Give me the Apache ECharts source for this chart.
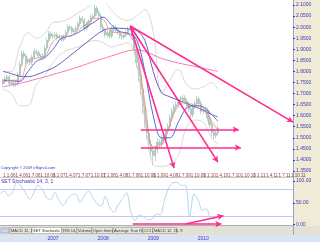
<!DOCTYPE html>
<html><head><meta charset="utf-8">
<script src="https://cdn.jsdelivr.net/npm/echarts@6/dist/echarts.min.js"></script>
<style>html,body{margin:0;padding:0;background:#fff}#c{width:320px;height:242px}</style>
</head><body><div id="c"></div><script>
// ---- data ----
const dateTicks = ['1.1.06','1.4.06','1.7.06','1.10.06','1.1.07','1.4.07','1.7.07','1.10.07','1.1.08','1.4.08','1.7.08','1.10.08','1.1.09','1.4.09','1.7.09','1.10.09','1.1.10','1.4.10','1.7.10','1.10.10','1.1.11','1.4.11','1.7.11','1.10.11'];
const years = ['2007','2008','2009','2010'];
const priceTicks = {min:1.35, max:2.10, step:0.05};
const opens = [1.745,1.755,1.765,1.775,1.745,1.750,1.740,1.745,1.785,1.830,1.880,1.870,1.845,1.850,1.840,1.865,1.890,1.885,1.870,1.865,1.870,1.905,1.940,1.970,
1.960,1.960,1.965,1.955,1.950,1.945,1.955,1.975,2.000,1.995,1.980,1.985,1.995,2.015,2.040,2.030,1.995,2.010,2.025,2.045,2.050,2.085,2.065,2.050,
2.000,1.985,1.965,1.975,1.960,1.990,2.000,1.985,1.975,1.960,1.955,1.965,1.975,1.990,1.995,1.960,1.900,1.840,1.780,1.720,1.640,1.570,1.520,1.470,
1.440,1.420,1.445,1.480,1.470,1.500,1.490,1.530,1.550,1.590,1.620,1.640,1.650,1.660,1.675,1.680,1.665,1.645,1.630,1.605,1.640,1.655,1.675,1.655,
1.620,1.620,1.625,1.590,1.560,1.525,1.510,1.522];
const closes = [1.755,1.765,1.775,1.745,1.750,1.740,1.745,1.785,1.830,1.880,1.870,1.845,1.850,1.840,1.865,1.890,1.885,1.870,1.865,1.870,1.905,1.940,1.970,1.960,
1.960,1.965,1.955,1.950,1.945,1.955,1.975,2.000,1.995,1.980,1.985,1.995,2.015,2.040,2.030,1.995,2.010,2.025,2.045,2.050,2.085,2.065,2.050,2.000,
1.985,1.965,1.975,1.960,1.990,2.000,1.985,1.975,1.960,1.955,1.965,1.975,1.990,1.995,1.960,1.900,1.840,1.780,1.720,1.640,1.570,1.520,1.470,1.440,
1.420,1.445,1.480,1.470,1.500,1.490,1.530,1.550,1.590,1.620,1.640,1.650,1.660,1.675,1.680,1.665,1.645,1.630,1.605,1.640,1.655,1.675,1.655,1.620,
1.620,1.625,1.590,1.560,1.525,1.510,1.522,1.544];
const highs = [1.768,1.778,1.786,1.784,1.762,1.760,1.758,1.797,1.845,1.895,1.892,1.880,1.862,1.860,1.876,1.902,1.900,1.895,1.880,1.882,1.918,1.952,1.983,1.980,
1.972,1.976,1.975,1.966,1.960,1.966,1.987,2.012,2.010,2.005,1.996,2.006,2.027,2.052,2.050,2.040,2.022,2.036,2.057,2.062,2.100,2.095,2.075,2.060,
2.012,1.995,1.986,1.984,2.002,2.012,2.010,1.995,1.985,1.970,1.976,1.986,2.002,2.008,2.005,1.975,1.915,1.860,1.800,1.740,1.665,1.590,1.540,1.490,
1.460,1.465,1.498,1.496,1.516,1.514,1.546,1.565,1.606,1.635,1.655,1.664,1.674,1.688,1.694,1.692,1.677,1.657,1.642,1.655,1.668,1.690,1.686,1.667,
1.634,1.638,1.636,1.602,1.572,1.538,1.534,1.556];
const lows = [1.733,1.744,1.754,1.733,1.735,1.728,1.729,1.735,1.775,1.820,1.858,1.834,1.835,1.829,1.830,1.855,1.874,1.860,1.854,1.855,1.860,1.895,1.930,1.948,
1.948,1.950,1.944,1.939,1.934,1.935,1.945,1.965,1.984,1.969,1.970,1.975,1.985,2.004,2.019,1.980,1.984,2.000,2.014,2.034,2.040,2.053,2.038,1.986,
1.972,1.953,1.955,1.948,1.950,1.978,1.974,1.964,1.948,1.944,1.945,1.955,1.965,1.980,1.945,1.880,1.815,1.755,1.695,1.610,1.545,1.495,1.445,1.410,
1.375,1.395,1.428,1.452,1.455,1.474,1.476,1.516,1.536,1.575,1.606,1.627,1.637,1.648,1.663,1.652,1.632,1.617,1.590,1.592,1.628,1.642,1.642,1.606,
1.606,1.608,1.576,1.546,1.508,1.494,1.497,1.510];
const maIdx = [0,4,8,12,16,20,24,28,32,36,40,44,48,52,56,60,64,68,72,76,80,84,88,92,96,100,103];
const maFast = [1.752,1.760,1.760,1.850,1.860,1.868,1.935,1.960,1.958,1.985,2.015,2.040,2.035,1.978,1.975,1.968,1.900,1.660,1.460,1.470,1.560,1.645,1.660,1.645,1.635,1.575,1.535];
const maMid = [1.760,1.758,1.755,1.800,1.845,1.862,1.900,1.950,1.960,1.975,2.000,2.025,2.045,2.010,1.980,1.972,1.945,1.800,1.600,1.500,1.500,1.570,1.635,1.645,1.640,1.605,1.575];
const maSlow = [1.800,1.790,1.778,1.776,1.785,1.800,1.815,1.840,1.870,1.900,1.930,1.960,1.985,1.995,1.995,1.992,1.985,1.940,1.800,1.705,1.685,1.670,1.655,1.640,1.625,1.605,1.594];
const maLong = [1.730,1.738,1.746,1.755,1.765,1.775,1.786,1.797,1.808,1.820,1.833,1.846,1.858,1.870,1.882,1.893,1.898,1.890,1.875,1.858,1.848,1.838,1.830,1.822,1.814,1.806,1.800];
const bandUpper = [1.800,1.800,1.910,1.975,1.950,1.970,2.020,2.025,2.040,2.065,2.085,2.115,2.115,2.075,2.040,2.030,2.050,2.080,1.980,1.700,1.760,1.810,1.740,1.720,1.730,1.750,1.720];
const bandLower = [1.720,1.700,1.645,1.645,1.740,1.780,1.840,1.880,1.900,1.910,1.930,1.940,1.930,1.910,1.920,1.930,1.840,1.580,1.380,1.370,1.380,1.420,1.550,1.580,1.570,1.500,1.470];
const stochIdx = [0,2,4,6,8,10,12,14,16,18,20,22,24,26,28,30,32,34,36,38,40,42,44,46,48,50,52,54,56,58,60,62,64,66,68,70,72,74,76,78,80,82,84,86,88,90,92,94,96,98,100,102,103];
const stochVal = [70,77,66,75,98,88,74,58,72,90,82,62,57,74,55,44,58,68,70,50,66,77,62,48,42,65,40,28,45,58,73,30,9,22,18,11,12,24,22,55,84,96,97,90,90,18,70,56,33,36,14,15,22];
const stochLevels = [80, 20];
// arrows: [x1 index, y1 value, x2 index, y2 value]
const fanArrows = [[60.7,2.005,138.5,1.571],[60.7,2.005,103.4,1.390],[60.7,2.005,81.6,1.363]];
const flatArrows = [[66.4,1.5375,112.9,1.5375],[66.4,1.4560,113.9,1.4560]];
const stochArrows = [[62.6,1,105.3,1],[87.8,1,105.8,20]];
const tabs = ['MACD 12, 26, 9','SET Stochastic 14, 3, 1','RSI 14, 1, 1','Volume 20','Open Interest 20','Average True Range 14','CCI 20','MACD 12, 26, 9'];
const tabX = [10,32,62,77,92,113,143,153,177];

// ---- build ----
const N = 140;
const cats = Array.from({length:N},(_,i)=>String(i));
const F = 'Liberation Sans, Arial, sans-serif';
const PINK = '#ff2b8e';
const ohlc = opens.map((o,i)=>[o, closes[i], lows[i], highs[i]]);
const pair = arr => maIdx.map((x,i)=>[x, arr[i]]);
const lastClose = closes[closes.length-1];
const lastStoch = stochVal[stochVal.length-1];
const arrowData = a => a.map(v=>[{coord:[v[0],v[1]]},{coord:[v[2],v[3]]}]);

const chart = echarts.init(document.getElementById('c'));
const lineS = (data,color,w) => ({type:'line', xAxisIndex:0, yAxisIndex:0, data, smooth:0.35, showSymbol:false, symbol:'none', lineStyle:{color, width:w}, silent:true, z:3});
const arrowS = (xi, anchor, arr) => ({type:'line', xAxisIndex:xi, yAxisIndex:xi, data:[anchor], showSymbol:false, symbol:'none', lineStyle:{opacity:0}, silent:true, z:6,
  markLine:{silent:true, symbol:['none','arrow'], symbolSize:[5,6], label:{show:false}, animation:false,
    itemStyle:{color:PINK}, lineStyle:{color:PINK, width:1.6, type:'solid', opacity:1}, data:arrowData(arr)}});

const graphic = [
  {type:'rect', shape:{x:293,y:0,width:27,height:235}, style:{fill:'#efebd7'}, z:-5},
  {type:'rect', shape:{x:0,y:226,width:320,height:9}, style:{fill:'#e3e1d6'}, z:-5},
  {type:'rect', shape:{x:0,y:235,width:320,height:7}, style:{fill:'#d9e5f5'}, z:-5},
  {type:'line', shape:{x1:293.5,y1:0,x2:293.5,y2:235}, style:{stroke:'#9d9dcf',lineWidth:1}, z:-4},
  {type:'line', shape:{x1:0,y1:177.5,x2:293,y2:177.5}, style:{stroke:'#c8c8c8',lineWidth:1}, z:-4},
  {type:'line', shape:{x1:0,y1:225.5,x2:293,y2:225.5}, style:{stroke:'#b0b0b0',lineWidth:1}, z:-4},
  {type:'text', x:1, y:166, style:{text:'Copyright © 2009 eSignal.com', font:'4px '+F, fill:'#3a3ab8'}},
  {type:'text', x:1, y:179, style:{text:'SET Stochastic 14, 3, 1', font:'5px '+F, fill:'#3a3ab8'}},
  {type:'rect', shape:{x:1,y:228,width:8,height:5}, style:{fill:'#c8d4f0', stroke:'#8080c0', lineWidth:0.5}},
];
tabs.forEach((t,i)=>{
  graphic.push({type:'rect', shape:{x:tabX[i],y:227.5,width:tabX[i+1]-tabX[i]-0.5,height:6}, style:{fill: i===1?'#ffffff':'#e8e6dc', stroke:'#8a8a8a', lineWidth:0.5}});
  graphic.push({type:'text', x:tabX[i]+1, y:228.5, style:{text:t, font:'4px '+F, fill:'#333'}});
});

chart.setOption({
  animation:false,
  textStyle:{fontFamily:F},
  grid:[
    {left:0, top:5, width:293, height:166},
    {left:0, top:181, width:293, height:43.5},
    {left:0, top:235, width:293, height:7}
  ],
  xAxis:[
    {type:'category', gridIndex:0, data:cats, boundaryGap:false, axisLine:{show:false}, axisTick:{show:false}, splitLine:{show:false},
     axisLabel:{interval:5, fontSize:4.5, color:'#8a3b3b', margin:2, align:'left', formatter:(v,i)=>dateTicks[i/6]||''}},
    {type:'category', gridIndex:1, data:cats, boundaryGap:false, axisLine:{show:false}, axisTick:{show:false}, axisLabel:{show:false}, splitLine:{show:false}},
    {type:'category', gridIndex:2, data:cats, boundaryGap:false, axisLine:{show:false}, axisTick:{show:false}, splitLine:{show:false},
     axisLabel:{interval:23, fontSize:5, color:'#3a3ab8', margin:-6, formatter:(v,i)=> (i>0 && i%24===0) ? (years[i/24-1]||'') : ''}}
  ],
  yAxis:[
    {type:'value', gridIndex:0, position:'right', min:priceTicks.min, max:priceTicks.max, interval:priceTicks.step,
     axisLine:{show:false}, axisTick:{show:true, length:2, lineStyle:{color:'#3a3ab8'}}, splitLine:{show:false},
     axisLabel:{fontSize:5, color:'#3a3ab8', margin:3, formatter:v=>v.toFixed(4)}},
    {type:'value', gridIndex:1, position:'right', min:0, max:100, interval:50,
     axisLine:{show:false}, axisTick:{show:true, length:2, lineStyle:{color:'#3a3ab8'}}, splitLine:{show:false},
     axisLabel:{fontSize:5, color:'#3a3ab8', margin:3, formatter:v=>v.toFixed(2)}},
    {type:'value', gridIndex:2, show:false}
  ],
  graphic,
  series:[
    lineS(pair(bandUpper),'#cfcfcf',0.8),
    lineS(pair(bandLower),'#cfcfcf',0.8),
    lineS(pair(maLong),'#f27ab8',1),
    lineS(pair(maSlow),'#6a5fc0',1),
    {type:'candlestick', xAxisIndex:0, yAxisIndex:0, data:ohlc, barWidth:1.6, silent:true, z:2,
     itemStyle:{color:'#b8d4c8', color0:'#b8d4c8', borderColor:'#92b6a7', borderColor0:'#92b6a7', borderWidth:0.6}},
    lineS(pair(maMid),'#3c5ae0',0.9),
    lineS(pair(maFast),'#f08a78',0.8),
    arrowS(0, [103,lastClose], fanArrows),
    arrowS(0, [103,lastClose], flatArrows),
    {type:'line', xAxisIndex:0, yAxisIndex:0, data:[[103,lastClose]], showSymbol:false, lineStyle:{opacity:0}, silent:true, z:10,
     markLine:{silent:true, symbol:'none', lineStyle:{opacity:0}, z:10,
       label:{show:true, position:'end', distance:2, formatter:()=>lastClose.toFixed(4), color:'#fff', backgroundColor:'#2222cc', fontSize:5, padding:[1,2]},
       data:[{yAxis:lastClose}]}},
    {type:'line', xAxisIndex:1, yAxisIndex:1, data:stochIdx.map((x,i)=>[x, stochVal[i]]), smooth:0.3, showSymbol:false, silent:true,
     lineStyle:{color:'#b4d4e6', width:1},
     markLine:{silent:true, symbol:'none', label:{show:false}, lineStyle:{color:'#c6c6ef', width:1, type:'solid'}, data:stochLevels.map(v=>({yAxis:v}))}},
    {type:'line', xAxisIndex:1, yAxisIndex:1, data:[[103,lastStoch]], showSymbol:false, lineStyle:{opacity:0}, silent:true, z:10,
     markLine:{silent:true, symbol:'none', lineStyle:{opacity:0},
       label:{show:true, position:'end', distance:2, formatter:()=>lastStoch.toFixed(2), color:'#333', backgroundColor:'#dcd8c4', fontSize:5, padding:[1,2]},
       data:[{yAxis:lastStoch}]}},
    arrowS(1, [103,lastStoch], stochArrows),
    {type:'line', xAxisIndex:2, yAxisIndex:2, data:[], showSymbol:false}
  ]
});
</script></body></html>
